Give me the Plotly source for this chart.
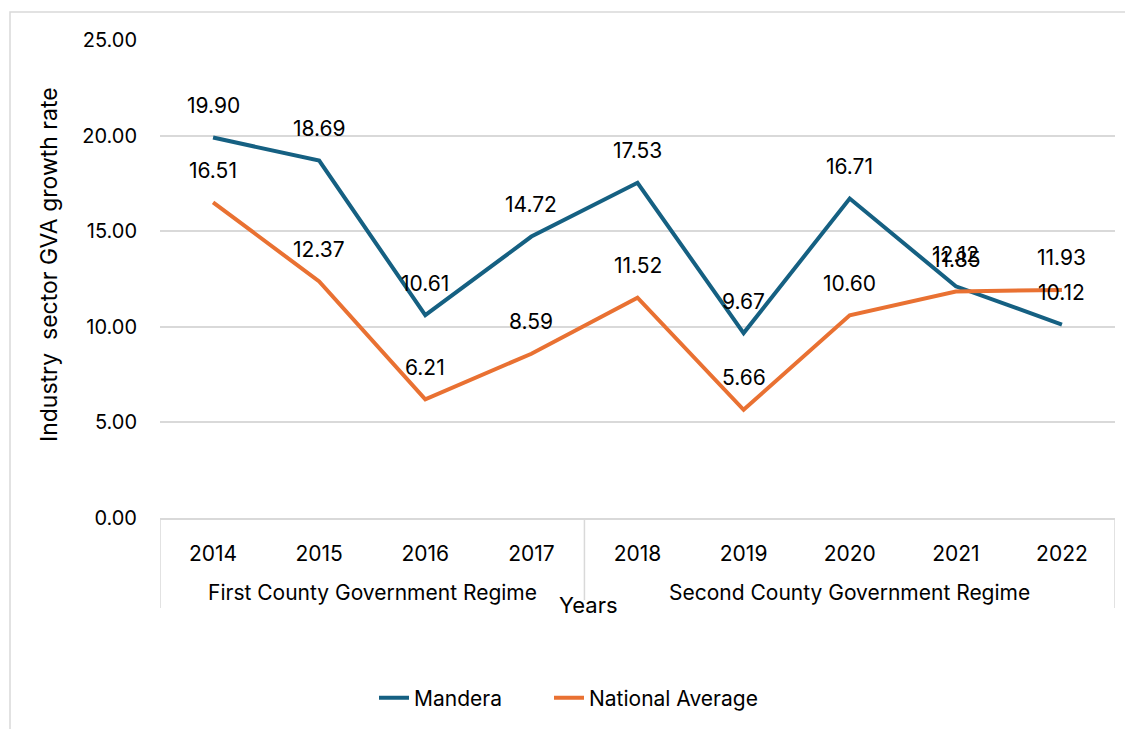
import plotly.graph_objects as go

years = ["2014", "2015", "2016", "2017", "2018", "2019", "2020", "2021", "2022"]
regime_names = ["First County Government Regime", "Second County Government Regime"]
regime_spans = [(0, 3), (4, 8)]  # index of first and last year in each regime
mandera = [19.90, 18.69, 10.61, 14.72, 17.53, 9.67, 16.71, 12.12, 10.12]
national = [16.51, 12.37, 6.21, 8.59, 11.52, 5.66, 10.60, 11.85, 11.93]
y_ticks = [0, 5, 10, 15, 20, 25]

FONT = "Inter"
BLUE = "#156082"
ORANGE = "#E97132"
GRID = "#d9d9d9"

OFF = 8  # page body margin of the browser
W, H = 1133 - OFF, 729 - OFF
PL, PR, PT, PB = 160, 1115, 40, 518  # plot area in screen pixels
pw, ph = PR - PL, PB - PT


def px(x):
    return (x - PL) / pw


def py(y):
    return (PB - y) / ph


xi = list(range(len(years)))

fig = go.Figure()
fig.add_trace(go.Scatter(x=xi, y=mandera, mode="lines", name="Mandera",
                         line=dict(color=BLUE, width=4), legend="legend"))
fig.add_trace(go.Scatter(x=xi, y=national, mode="lines", name="National Average",
                         line=dict(color=ORANGE, width=4), legend="legend2"))

annotations = []
for vals in (mandera, national):
    for i, v in zip(xi, vals):
        annotations.append(dict(x=i, y=v, xref="x", yref="y", text=f"{v:.2f}",
                                showarrow=False, yshift=32,
                                font=dict(family=FONT, size=21, color="#000000")))

shapes = [dict(type="rect", xref="paper", yref="paper",
               x0=px(10), x1=px(1133 + 30), y0=py(729 + 30), y1=py(12),
               line=dict(color=GRID, width=1.5), layer="below")]

for name, (a, b) in zip(regime_names, regime_spans):
    annotations.append(dict(x=(a + b) / 2, y=py(592), xref="x", yref="paper", text=name,
                            showarrow=False, xanchor="center", yanchor="middle",
                            font=dict(family=FONT, size=21, color="#000000")))
# dividers between regime groups
div_pos = [regime_spans[0][0] - 0.5] + [b + 0.5 for (_, b) in regime_spans]
div_ends = [608, 600, 608]
for xv, ye in zip(div_pos, div_ends):
    shapes.append(dict(type="line", xref="x", yref="paper", x0=xv, x1=xv, y0=0, y1=py(ye),
                       line=dict(color=GRID, width=1.5)))

# axis titles
annotations.append(dict(x=px(49), y=py(265), xref="paper", yref="paper",
                        text="Industry  sector GVA growth rate", textangle=-90, showarrow=False,
                        xanchor="center", yanchor="middle",
                        font=dict(family=FONT, size=23, color="#000000")))
annotations.append(dict(x=px(588), y=py(605), xref="paper", yref="paper",
                        text="Years", showarrow=False, xanchor="center", yanchor="middle",
                        font=dict(family=FONT, size=22, color="#000000")))

legend_style = dict(orientation="h", xanchor="left", y=py(698), yanchor="middle",
                    font=dict(family=FONT, size=21, color="#000000"),
                    bgcolor="rgba(0,0,0,0)")

fig.update_layout(
    width=W, height=H,
    margin=dict(l=PL - OFF, r=W - (PR - OFF), t=PT - OFF, b=H - (PB - OFF), autoexpand=False),
    paper_bgcolor="white", plot_bgcolor="white",
    font=dict(family=FONT, size=20, color="#000000"),
    annotations=annotations,
    shapes=shapes,
    showlegend=True,
    legend=dict(x=px(374), **legend_style),
    legend2=dict(x=px(549), **legend_style),
)
fig.update_xaxes(
    type="linear", tickmode="array", tickvals=xi, ticktext=years,
    showgrid=False, zeroline=False, showline=True, linecolor=GRID, linewidth=1.5,
    tickfont=dict(family=FONT, size=21, color="#000000"), ticks="", ticklabelstandoff=16,
    range=[-0.5, 8.5], automargin=False,
)
fig.update_yaxes(
    range=[0, 25], tickvals=y_ticks, tickformat=".2f", showgrid=True, gridcolor=GRID,
    gridwidth=1.5, zeroline=False, showline=False, ticks="", ticklabelstandoff=22,
    tickfont=dict(family=FONT, size=20, color="#000000"), automargin=False,
)

fig.write_html("out.html")
